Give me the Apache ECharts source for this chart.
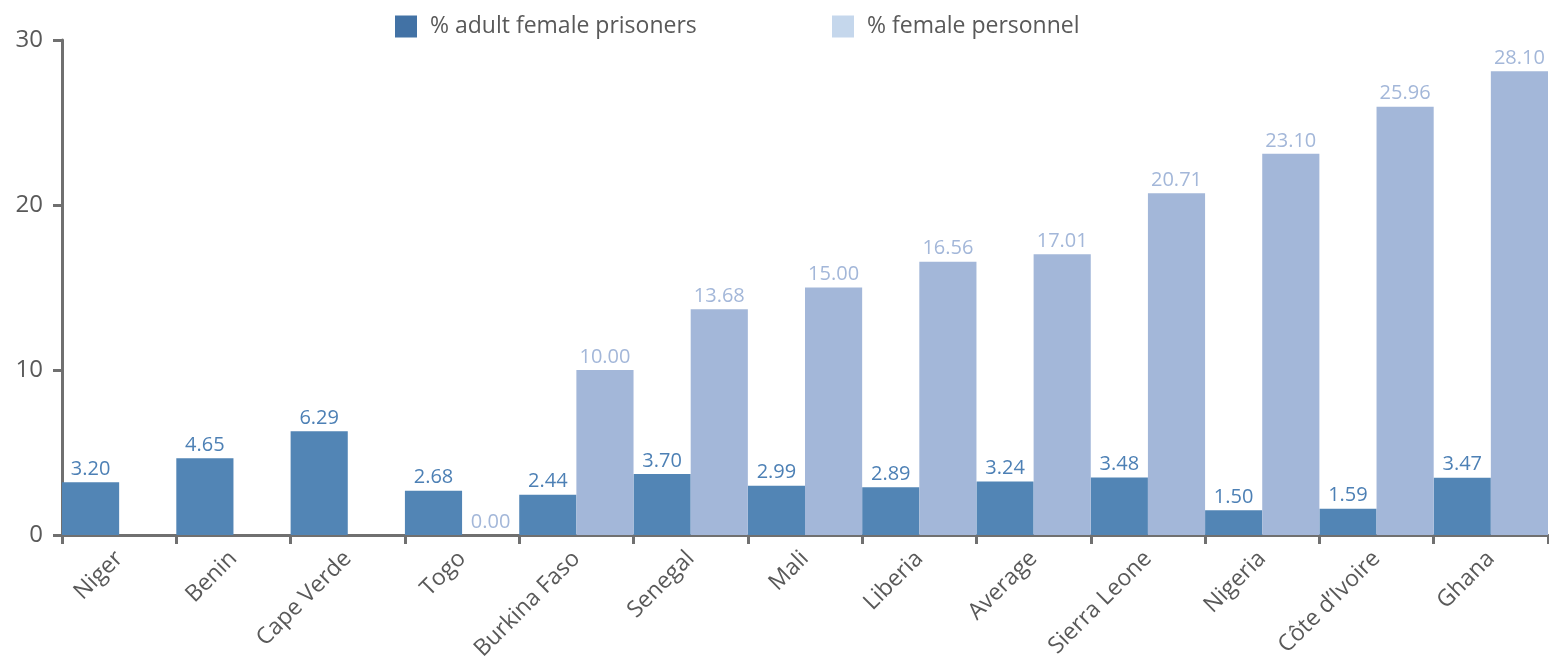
<!DOCTYPE html>
<html>
<head>
<meta charset="utf-8">
<script src="https://cdn.jsdelivr.net/npm/echarts@6/dist/echarts.min.js"></script>
<style>
html, body { margin: 0; padding: 0; background: #fff; }
#chart { width: 1549px; height: 665px; }
</style>
</head>
<body>
<div id="chart"></div>
<script>
var countries = ['Niger', 'Benin', 'Cape Verde', 'Togo', 'Burkina Faso', 'Senegal', 'Mali',
    'Liberia', 'Average', 'Sierra Leone', 'Nigeria', 'Côte d\u2019Ivoire', 'Ghana'];
var prisoners = [3.20, 4.65, 6.29, 2.68, 2.44, 3.70, 2.99, 2.89, 3.24, 3.48, 1.50, 1.59, 3.47];
var personnel = [null, null, null, 0.00, 10.00, 13.68, 15.00, 16.56, 17.01, 20.71, 23.10, 25.96, 28.10];
var yTicks = [0, 10, 20, 30];

var font = '"Open Sans", "Noto Sans", sans-serif';
var darkBar = '#5285b5';
var lightBar = '#a3b7d9';

var chart = echarts.init(document.getElementById('chart'));
var option = {
    animation: false,
    textStyle: { fontFamily: font },
    grid: { left: 62, right: 1, top: 40, bottom: 130 },
    legend: [
        {
            left: 395, top: 15, padding: 0,
            itemWidth: 22, itemHeight: 22,
            textStyle: { fontSize: 23, color: '#595959', fontFamily: font, padding: [0, 0, 0, 8] },
            data: [{ name: '% adult female prisoners', icon: 'rect', itemStyle: { color: '#4272a5' } }]
        },
        {
            left: 832, top: 15, padding: 0,
            itemWidth: 22, itemHeight: 22,
            textStyle: { fontSize: 23, color: '#595959', fontFamily: font, padding: [0, 0, 0, 8] },
            data: [{ name: '% female personnel', icon: 'rect', itemStyle: { color: '#c5d7ec' } }]
        }
    ],
    xAxis: {
        type: 'category',
        data: countries,
        axisLine: { lineStyle: { color: '#707070', width: 3 } },
        axisTick: { show: true, length: 9, lineStyle: { color: '#707070', width: 3 } },
        axisLabel: { rotate: 45, fontSize: 23, color: '#595959', margin: 20, interval: 0, fontFamily: font }
    },
    yAxis: {
        type: 'value',
        min: yTicks[0], max: yTicks[yTicks.length - 1], interval: 10,
        splitLine: { show: false },
        axisLine: { show: true, lineStyle: { color: '#707070', width: 3 } },
        axisTick: { show: true, length: 9, lineStyle: { color: '#707070', width: 3 } },
        axisLabel: { fontSize: 24, color: '#595959', margin: 19, fontFamily: font }
    },
    series: [
        {
            name: '% adult female prisoners',
            type: 'bar',
            data: prisoners,
            barGap: '0%',
            barCategoryGap: '0%',
            itemStyle: { color: darkBar },
            label: {
                show: true, position: 'top', distance: 3,
                fontSize: 20, color: '#4d80b5', fontFamily: font,
                formatter: function (p) { return p.value.toFixed(2); }
            }
        },
        {
            name: '% female personnel',
            type: 'bar',
            data: personnel,
            barGap: '0%',
            barCategoryGap: '0%',
            itemStyle: { color: lightBar },
            label: {
                show: true, position: 'top', distance: 3,
                fontSize: 20, color: '#a3b7d9', fontFamily: font,
                formatter: function (p) { return p.value == null ? '' : p.value.toFixed(2); }
            }
        }
    ]
};
chart.setOption(option);
</script>
</body>
</html>
